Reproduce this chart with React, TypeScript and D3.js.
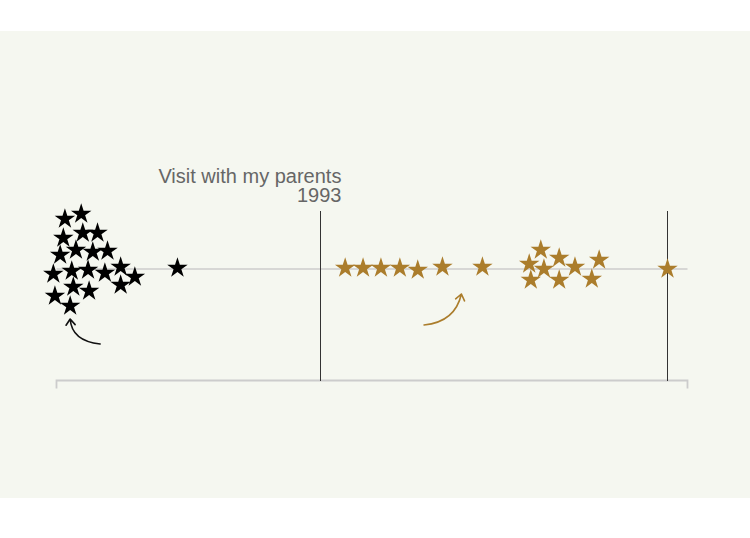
import React from 'react';
import * as d3 from 'd3';

// early memories (black) : year and swarm offset
const earlyYears = [
  1988.16, 1988.47, 1988.13, 1988.5, 1988.78, 1988.07, 1988.37, 1988.69, 1988.97,
  1987.94, 1988.29, 1988.6, 1988.92, 1989.22, 1989.49, 1989.22, 1988.32, 1988.62,
  1987.97, 1988.26, 1990.3,
];
const earlyOffsets = [
  50, 55, 31, 36, 36, 14, 19, 17, 18, -5, -2, -1, -4, 2, -8, -16, -18, -22, -27, -37, 1,
];

// later memories (gold)
const laterYears = [
  1993.49, 1993.83, 1994.17, 1994.53, 1994.87, 1995.34, 1996.1, 1996.99, 1997.21,
  1997.56, 1997.27, 1997.86, 1998.32, 1997.02, 1997.56, 1998.18, 1999.62,
];
const laterOffsets = [1, 1, 1, 1, -1, 2, 2, 5, 19, 11, 0, 2, 9, -11, -11, -10, 0];

const markerYears = [1993, 1999.6];
const markerLabel = ['Visit with my parents', '1993'];

// arrows: [start, control, tip] as [year, offset]
const earlyArrow = [[1988.83, -75], [1988.29, -72], [1988.26, -50]];
const laterArrow = [[1994.99, -56], [1995.58, -53], [1995.7, -25]];

const W = 750;
const H = 538;
const GOLD = '#ab7d2c';

export default function App() {
  const x = d3.scaleLinear().domain([1988, 2000]).range([56.5, 687.5]);
  const y = d3.scaleLinear().domain([-100, 100]).range([369, 169]);
  const star = d3.symbol().type(d3.symbolStar).size(130)();

  const arrow = (pts: number[][], color: string) => {
    const p = pts.map(([a, b]) => [x(a), y(b)]);
    const [s, c, t] = p;
    const ang = Math.atan2(t[1] - c[1], t[0] - c[0]);
    const len = 7.5;
    const spread = 0.65;
    const a1 = [t[0] - len * Math.cos(ang - spread), t[1] - len * Math.sin(ang - spread)];
    const a2 = [t[0] - len * Math.cos(ang + spread), t[1] - len * Math.sin(ang + spread)];
    const path = d3.path();
    path.moveTo(s[0], s[1]);
    path.quadraticCurveTo(c[0], c[1], t[0], t[1]);
    path.moveTo(a1[0], a1[1]);
    path.lineTo(t[0], t[1]);
    path.lineTo(a2[0], a2[1]);
    return (
      <path d={path.toString()} fill="none" stroke={color} strokeWidth={1.6}
        strokeLinecap="round" strokeLinejoin="round" />
    );
  };

  const [x0, x1] = x.range();
  const axisY = 380.5;
  const labelX = x(markerYears[0]) + 22;

  return (
    <svg width={W} height={H} style={{ position: 'absolute', left: 0, top: 0 }}
      fontFamily="'Liberation Sans', Arial, Helvetica, sans-serif">
      <rect x={0} y={0} width={W} height={H} fill="#ffffff" />
      <rect x={0} y={31} width={W} height={467} fill="#f5f7f0" />

      {/* baseline through the swarm */}
      <line x1={x0} x2={x1} y1={y(0)} y2={y(0)} stroke="#cccccc" strokeWidth={1.5} />

      {/* axis */}
      <path d={`M${x0},${axisY + 8}V${axisY}H${x1}V${axisY + 8}`} fill="none"
        stroke="#cccccc" strokeWidth={1.8} />

      {/* markers */}
      {markerYears.map((m) => (
        <line key={m} x1={x(m) + 1} x2={x(m) + 1} y1={211} y2={axisY}
          stroke="#333333" strokeWidth={1} shapeRendering="crispEdges" />
      ))}
      <text x={labelX} y={182.5} textAnchor="end" fontSize={20} fill="#666666">
        <tspan x={labelX}>{markerLabel[0]}</tspan>
        <tspan x={labelX} dy={19.3}>{markerLabel[1]}</tspan>
      </text>

      {earlyYears.map((d, i) => (
        <path key={'e' + i} d={star!} transform={`translate(${x(d)},${y(earlyOffsets[i])})`}
          fill="#000000" />
      ))}
      {laterYears.map((d, i) => (
        <path key={'l' + i} d={star!} transform={`translate(${x(d)},${y(laterOffsets[i])})`}
          fill={GOLD} />
      ))}

      {arrow(earlyArrow, '#111111')}
      {arrow(laterArrow, GOLD)}
    </svg>
  );
}
